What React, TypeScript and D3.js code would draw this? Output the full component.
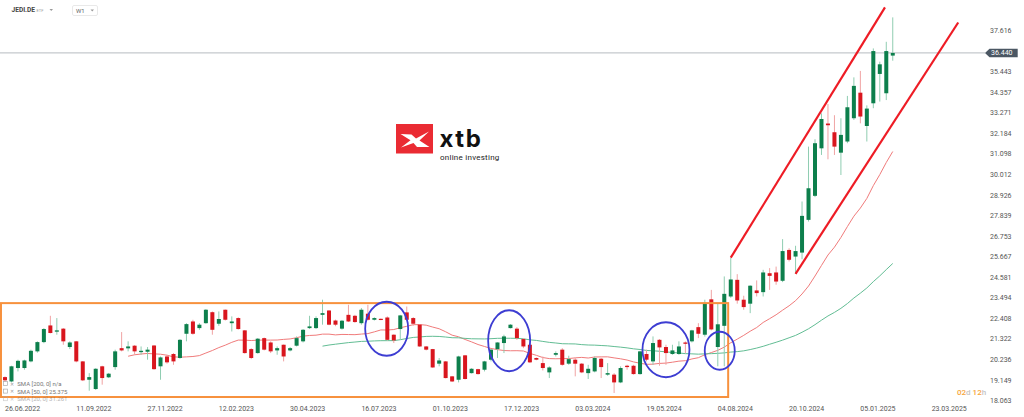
import React from "react";
import * as d3 from "d3";

// Weekly candles, JEDI.DE, first week 26.06.2022
const FIRST_WEEK = "26.06.2022";
const opens = [19.31,19.08,19.79,19.79,20.14,20.67,21.16,22.04,21.71,21.87,20.90,21.20,20.14,19.17,18.68,19.88,19.30,19.84,20.84,20.83,20.97,20.63,20.65,20.98,19.88,20.40,20.53,20.32,21.60,22.25,21.90,22.16,22.74,22.13,22.87,22.16,22.43,21.78,20.79,20.58,21.37,21.14,20.72,21.02,20.72,20.97,21.20,21.90,21.90,22.60,22.83,22.30,21.87,22.60,22.55,22.16,22.66,22.34,22.39,22.46,21.55,21.85,22.73,22.43,22.08,20.93,20.79,20.02,20.14,19.35,19.17,20.46,19.52,19.73,19.70,20.23,20.79,21.11,21.90,21.87,21.32,21.02,20.32,20.05,19.56,20.49,20.76,20.02,20.23,20.02,19.52,19.61,20.28,19.44,19.44,19.03,19.91,19.91,19.47,20.53,20.14,21.28,20.90,20.53,20.53,21.14,21.20,21.95,21.55,23.42,20.90,22.02,23.57,24.45,23.40,23.19,23.89,23.80,24.80,24.84,24.40,26.03,25.68,25.89,27.62,28.89,31.40,32.71,32.25,31.17,31.76,32.99,34.34,32.58,33.78,35.33,34.31,36.30];
const highs = [19.35,19.91,20.23,20.23,20.76,21.20,21.90,22.55,22.43,21.90,21.20,21.22,20.16,19.52,19.78,19.91,19.53,20.76,21.69,21.20,21.00,20.93,20.90,21.00,20.40,20.49,20.58,21.32,22.16,22.34,22.16,22.90,22.78,22.78,22.88,22.52,22.47,21.80,20.84,21.37,21.40,21.20,20.93,21.03,20.90,21.46,21.85,22.55,22.52,23.40,22.85,22.35,22.33,23.13,22.60,22.96,23.13,22.47,22.41,22.52,21.57,22.60,23.04,22.48,22.10,20.95,20.80,20.32,20.16,19.37,20.44,20.48,19.78,19.75,20.17,20.79,21.15,21.55,22.11,21.95,21.37,21.11,20.35,20.40,19.88,20.67,20.84,20.44,20.32,20.05,19.96,20.40,20.32,20.05,19.52,19.88,19.96,19.96,20.70,20.76,21.46,21.32,21.02,21.02,21.20,21.20,21.81,22.16,23.40,23.92,23.19,24.63,25.62,24.75,23.61,24.16,24.42,24.98,25.07,25.15,26.60,26.12,26.25,28.59,31.49,31.88,33.25,33.74,33.15,32.99,34.17,35.15,35.49,33.67,36.68,35.98,37.03,38.32];
const lows = [19.07,19.03,19.61,19.70,20.09,20.60,21.10,21.62,21.55,21.02,20.79,20.09,19.10,18.59,18.63,18.91,19.26,19.70,20.67,20.67,20.49,20.49,20.23,19.70,19.17,20.02,19.96,20.28,21.20,21.55,21.81,22.13,21.55,22.02,22.30,21.72,21.82,20.55,20.26,20.55,20.72,20.58,20.49,20.14,20.67,20.93,21.14,21.85,21.85,22.08,22.05,22.00,21.82,22.22,22.18,22.08,22.30,22.30,22.32,21.25,21.11,21.28,22.30,22.02,20.90,20.72,19.80,19.88,19.24,19.05,19.03,19.18,19.50,19.44,19.61,20.14,20.32,20.58,21.88,21.28,20.84,20.05,20.20,19.66,19.26,20.40,19.91,19.96,19.35,19.52,19.21,19.56,19.26,19.38,18.47,18.99,19.70,19.44,19.44,20.14,19.96,19.91,19.96,20.49,20.49,20.58,21.14,21.37,21.45,21.78,19.88,19.88,23.50,23.19,22.87,22.69,23.57,23.57,23.92,24.19,24.33,25.42,24.77,25.54,27.53,28.82,31.05,30.82,31.05,29.99,31.67,32.90,32.72,31.76,33.52,33.87,33.95,36.03];
const closes = [19.14,19.88,20.17,20.19,20.70,21.16,21.85,21.64,21.78,21.20,21.14,20.14,19.14,19.31,19.75,19.26,19.49,20.67,20.72,20.93,20.67,20.70,20.76,19.73,20.35,20.09,20.14,21.28,22.11,21.60,22.08,22.87,21.81,22.38,22.34,22.25,21.85,20.58,20.32,21.34,20.76,20.67,20.84,20.40,20.84,21.37,21.81,21.99,22.43,22.69,22.08,22.08,22.29,22.25,22.22,22.87,22.34,22.43,22.34,21.28,21.25,22.57,22.34,22.13,20.93,20.76,19.82,20.19,19.26,19.08,20.40,19.21,19.75,19.47,20.14,20.76,21.14,21.46,22.08,21.37,20.93,20.09,20.23,19.79,19.82,20.58,19.96,20.26,20.02,19.56,19.75,20.32,19.84,19.52,19.03,19.79,19.84,19.47,20.67,20.23,21.11,20.88,20.58,20.72,20.93,21.07,21.78,21.60,23.18,21.83,22.10,23.71,24.47,23.36,23.01,24.14,23.75,24.84,24.66,24.36,25.97,25.51,25.97,27.83,29.29,31.67,32.95,32.62,31.49,32.11,33.57,34.70,33.08,33.50,36.54,35.84,36.54,36.44];

const xTickLabels = ["26.06.2022","11.09.2022","27.11.2022","12.02.2023","30.04.2023","16.07.2023","01.10.2023","17.12.2023","03.03.2024","19.05.2024","04.08.2024","20.10.2024","05.01.2025","23.03.2025"];
const yTickValues = [18.063,19.149,20.236,21.322,22.408,23.494,24.581,25.667,26.753,27.839,28.926,30.012,31.098,32.184,33.271,34.357,35.443,37.616];
const lastPrice = 36.44;

const smaPeriods = [20, 50];
const legendLines = ["SMA [200, 0] n/a", "SMA [50, 0] 25.375", "SMA [20, 0] 31.261"];

// annotations in (week index, price)
const upperChannel = [[112, 25.62], [135.8, 38.85]];
const lowerChannel = [[122, 24.77], [147.1, 38.05]];
const rangeBox = { i0: -0.62, i1: 111.6, v0: 23.22, v1: 18.258 };
const circles = [
  { i: 58.9, v: 21.865, rx: 21.5, ry: 27 },
  { i: 77.8, v: 21.231, rx: 21, ry: 30.5 },
  { i: 102.0, v: 20.756, rx: 23.5, ry: 27.5 },
  { i: 110.3, v: 20.703, rx: 15, ry: 19 },
];

const GREEN = "#0d7f4c";
const RED = "#d9161e";
const FONT = "Roboto, 'Noto Sans', sans-serif";

function sma(values: number[], n: number) {
  const out: [number, number][] = [];
  for (let i = n - 1; i < values.length; i++) {
    out.push([i, d3.mean(values.slice(i - n + 1, i + 1)) as number]);
  }
  return out;
}

export default function App() {
  const W = 1024, H = 417;
  const parse = d3.timeParse("%d.%m.%Y");
  const t0 = parse(FIRST_WEEK)!;
  const weekIndex = (s: string) => Math.round(d3.timeDay.count(t0, parse(s)!) / 7);
  const x = d3.scaleLinear().domain([0, 143]).range([5, 5 + 143 * 6.48]);
  const y = d3.scaleLinear().domain([18.063, 37.616]).range([400.7, 30.7]);
  const line = d3.line<[number, number]>().x(d => x(d[0])).y(d => y(d[1]));
  const bw = 4;

  const smaColors: Record<number, string> = { 20: "#f07b7b", 50: "#62bd94" };

  return (
    <div style={{ position: "fixed", left: 0, top: 0, width: W, height: H, background: "#fff" }}>
      <svg width={W} height={H} style={{ display: "block", fontFamily: FONT }}>
        <rect width={W} height={H} fill="#fff" />
        {/* header */}
        <text x={11.5} y={12.3} fontSize={6.6} fontWeight={700} fill="#444">JEDI.DE</text>
        <text x={36.5} y={12} fontSize={4} fill="#999">ETF</text>
        <path d="M49.5,9 L53,9 L51.25,11 Z" fill="#999" />
        <rect x={72.5} y={5.5} width={25} height={10} rx={1.5} fill="#fff" stroke="#e3e3e3" strokeWidth={0.8} />
        <text x={76} y={12.6} fontSize={6} fill="#666">W1</text>
        <path d="M90.5,9.5 L94,9.5 L92.25,11.5 Z" fill="#999" />

        {/* logo */}
        <g>
          <rect x={396} y={124} width={37} height={29.5} fill="#ea2b33" />
          <path d="M400.5,134 L411.5,134.5 L416,138.5 L429,131.5 L419.5,140.5 L429.5,147 L417,147 L413.5,143 L401,147.5 L410.5,140.3 Z" fill="#fff" />
          <text x={439.5} y={146.5} fontSize={24} fontWeight={700} fill="#111" fontFamily="Inter, Roboto, sans-serif" letterSpacing={1.6}>xtb</text>
          <text x={440} y={160} fontSize={8} fill="#222" fontFamily="Roboto, sans-serif" letterSpacing={0.25}>online investing</text>
        </g>

        {/* current price line */}
        <line x1={0} x2={985} y1={y(lastPrice)} y2={y(lastPrice)} stroke="#c5c9cd" strokeWidth={1.3} />

        {/* SMA lines */}
        {smaPeriods.map(p => (
          <path key={p} d={line(sma(closes, p)) || ""} fill="none" stroke={smaColors[p]} strokeWidth={1} />
        ))}

        {/* candles */}
        {closes.map((c, i) => {
          const o = opens[i];
          const up = c >= o;
          const col = up ? GREEN : RED;
          const wick = up ? "#8fcdb1" : "#f0a3a3";
          const top = y(Math.max(o, c));
          const bot = y(Math.min(o, c));
          return (
            <g key={i}>
              <line x1={x(i)} x2={x(i)} y1={y(highs[i])} y2={y(lows[i])} stroke={wick} strokeWidth={1} />
              <rect x={x(i) - bw / 2} y={top} width={bw} height={Math.max(1.2, bot - top)} fill={col} />
            </g>
          );
        })}

        {/* range box */}
        <rect x={x(rangeBox.i0)} y={y(rangeBox.v0)} width={x(rangeBox.i1) - x(rangeBox.i0)} height={y(rangeBox.v1) - y(rangeBox.v0)}
          fill="none" stroke="#f7913d" strokeWidth={2} />

        {/* circles */}
        {circles.map((c, k) => (
          <ellipse key={k} cx={x(c.i)} cy={y(c.v)} rx={c.rx} ry={c.ry} fill="none" stroke="#3d3dd2" strokeWidth={1.8} />
        ))}

        {/* channel */}
        {[upperChannel, lowerChannel].map((seg, k) => (
          <line key={k} x1={x(seg[0][0])} y1={y(seg[0][1])} x2={x(seg[1][0])} y2={y(seg[1][1])} stroke="#ee1c25" strokeWidth={2.2} />
        ))}

        {/* legend */}
        {legendLines.map((t, k) => (
          <g key={k} opacity={k === 2 ? 0.55 : 1}>
            <rect x={3.5} y={381.5 + k * 7.6} width={4} height={4} fill="none" stroke="#aaa" strokeWidth={0.7} />
            <text x={10} y={385.6 + k * 7.6} fontSize={5} fill="#999">✕</text>
            <text x={17.3} y={386 + k * 7.6} fontSize={6} fill="#777">{t}</text>
          </g>
        ))}

        {/* x axis labels */}
        {xTickLabels.map(s => (
          <text key={s} x={x(weekIndex(s))} y={410.5} fontSize={7} fill="#555">{s}</text>
        ))}

        {/* y axis labels */}
        {yTickValues.map(v => (
          <text key={v} x={990} y={y(v)} dy="0.35em" fontSize={7} fill="#555">{v.toFixed(3)}</text>
        ))}

        {/* price tag */}
        <path d={`M985,${y(lastPrice)} L989.5,${y(lastPrice) - 4.3} L1017.7,${y(lastPrice) - 4.3} L1017.7,${y(lastPrice) + 4.3} L989.5,${y(lastPrice) + 4.3} Z`} fill="#4b5763" />
        <text x={991} y={y(lastPrice)} dy="0.35em" fontSize={7} fill="#fff">{lastPrice.toFixed(3)}</text>

        {/* countdown */}
        <text x={957} y={394.5} fontSize={8} fontWeight={500}>
          <tspan fill="#f6a53a">02</tspan><tspan fill="#c4c4c4">d </tspan><tspan fill="#f6a53a">12</tspan><tspan fill="#c4c4c4">h</tspan>
        </text>
      </svg>
    </div>
  );
}
